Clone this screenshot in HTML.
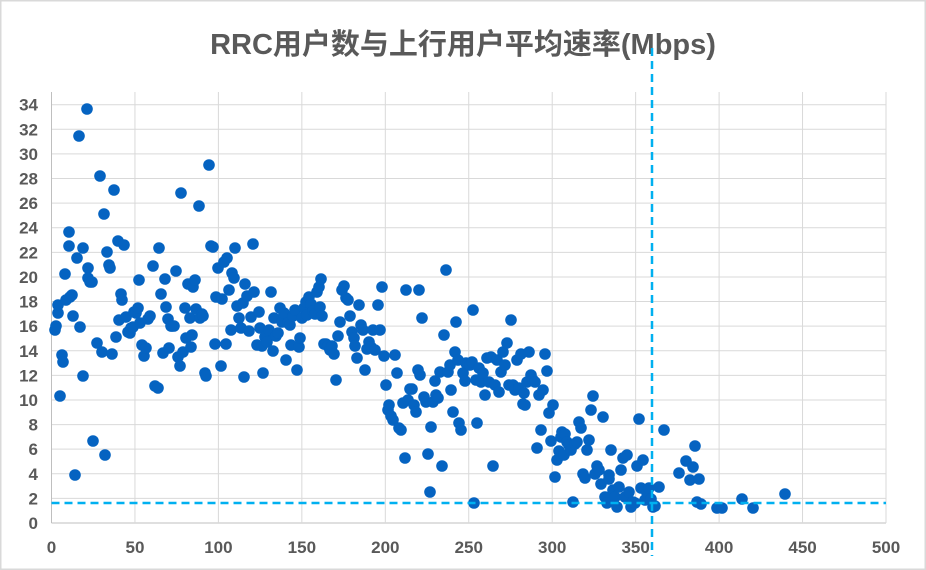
<!DOCTYPE html>
<html><head><meta charset="utf-8"><style>
html,body{margin:0;padding:0;background:#fff}
svg{display:block}
text{font-family:"Liberation Sans","Noto Sans CJK SC",sans-serif;fill:#595959}
</style></head><body>
<svg width="926" height="570" viewBox="0 0 926 570" xmlns="http://www.w3.org/2000/svg">
<rect x="0.5" y="0.5" width="925" height="569" fill="#fff" stroke="#d9d9d9" stroke-width="2"/>
<text x="463" y="54" text-anchor="middle" font-size="29" font-weight="bold">RRC用户数与上行用户平均速率(Mbps)</text>
<g id="grid" stroke="#d9d9d9" stroke-width="1"></g>
<g id="lab" font-size="17" font-weight="bold"></g>
<g id="pts" fill="#0563c1"></g>
<line x1="51.5" y1="503" x2="886" y2="503" stroke="#00b0f0" stroke-width="2.5" stroke-dasharray="8,5"/>
<line x1="652" y1="48" x2="652" y2="556" stroke="#00b0f0" stroke-width="2.5" stroke-dasharray="8,5"/>
</svg>
<script>
var ns="http://www.w3.org/2000/svg";
function el(p,t,a,txt){var e=document.createElementNS(ns,t);for(var k in a)e.setAttribute(k,a[k]);if(txt!=null)e.textContent=txt;document.getElementById(p).appendChild(e);}
var x0=51.5,xs=(886-51.5)/500,y0=523,ys=(523-104.7)/34;
for(var v=0;v<=34;v+=2){var y=y0-v*ys;el("grid","line",{x1:x0,x2:886,y1:y,y2:y,stroke:v==0?"#bfbfbf":"#d9d9d9"});el("lab","text",{x:38,y:y+6,"text-anchor":"end"},v);}
for(var v=0;v<=500;v+=50){var x=x0+v*xs;el("grid","line",{x1:x,x2:x,y1:92,y2:523,stroke:v==0?"#bfbfbf":"#d9d9d9"});el("lab","text",{x:x,y:553,"text-anchor":"middle"},v);}
var P=[[55,330],[56,326],[58,313],[58,305],[60,396],[62,355],[63,362],[65,274],[66,300],[69,232],[69,246],[70,297],[72,295],[73,316],[75,475],[77,258],[80,327],[83,376],[83,248],[88,268],[87,109],[79,136],[88,278],[90,282],[92,282],[93,441],[97,343],[100,176],[102,352],[104,214],[105,455],[107,252],[109,265],[110,268],[112,354],[114,190],[116,337],[118,241],[119,320],[121,294],[122,300],[124,245],[126,317],[128,332],[130,333],[131,328],[133,327],[134,312],[136,313],[138,308],[139,280],[140,323],[142,345],[144,356],[146,348],[148,319],[150,316],[153,266],[155,386],[158,388],[159,248],[161,294],[163,353],[165,279],[166,307],[168,319],[169,348],[171,326],[172,326],[174,326],[176,271],[178,357],[180,366],[181,193],[183,352],[185,308],[186,338],[188,284],[190,318],[191,347],[192,335],[193,287],[195,280],[196,309],[199,206],[200,318],[202,314],[203,316],[205,373],[206,376],[209,165],[211,246],[213,247],[215,344],[216,297],[218,268],[221,366],[222,299],[224,262],[226,344],[227,258],[229,290],[231,330],[232,273],[234,278],[235,248],[237,306],[239,318],[241,328],[243,303],[244,377],[245,284],[247,296],[249,331],[251,317],[253,244],[254,292],[257,345],[259,312],[260,328],[262,346],[263,373],[265,337],[267,342],[269,330],[271,292],[273,351],[274,318],[276,336],[278,333],[280,308],[282,322],[284,313],[286,360],[288,323],[290,325],[291,345],[293,316],[295,310],[297,370],[299,347],[300,338],[302,318],[304,308],[306,302],[307,315],[309,297],[311,304],[313,311],[315,314],[317,292],[319,287],[320,307],[321,279],[322,316],[324,344],[326,344],[328,346],[330,350],[332,346],[334,354],[336,380],[338,336],[340,322],[342,290],[344,286],[346,298],[348,300],[350,316],[352,332],[354,338],[355,346],[357,358],[359,305],[361,325],[363,330],[365,370],[367,349],[369,342],[371,347],[373,330],[375,350],[378,305],[380,330],[382,287],[384,356],[386,385],[388,410],[389,405],[391,416],[393,420],[395,355],[397,373],[399,428],[401,430],[403,403],[405,458],[406,290],[408,400],[410,389],[412,389],[414,405],[416,412],[418,370],[419,290],[420,375],[422,318],[424,397],[426,402],[428,454],[430,492],[431,427],[433,402],[435,381],[436,395],[438,398],[440,372],[442,466],[444,335],[446,270],[448,372],[450,365],[451,390],[453,412],[455,352],[456,322],[458,360],[459,423],[461,430],[463,373],[465,381],[466,363],[468,364],[470,365],[472,362],[473,310],[474,503],[476,380],[477,423],[479,368],[481,382],[483,373],[485,395],[487,358],[489,382],[491,357],[493,466],[495,385],[497,360],[499,392],[501,372],[503,352],[505,365],[507,343],[509,385],[511,320],[513,385],[515,390],[517,360],[519,388],[521,354],[523,404],[524,393],[525,405],[527,382],[529,352],[531,375],[533,380],[535,382],[537,448],[539,395],[541,430],[543,390],[545,354],[547,371],[549,413],[551,441],[553,405],[555,477],[557,460],[559,451],[561,437],[562,432],[564,455],[565,434],[567,442],[569,445],[571,450],[573,502],[575,444],[577,442],[579,422],[581,428],[583,474],[585,478],[587,450],[589,440],[591,410],[593,396],[595,474],[597,466],[599,470],[601,484],[603,417],[605,497],[607,503],[609,475],[611,450],[613,490],[615,497],[617,507],[619,487],[621,470],[623,458],[625,497],[627,455],[629,492],[631,507],[633,502],[635,503],[637,466],[639,419],[641,488],[643,460],[645,500],[647,493],[649,488],[651,499],[653,507],[655,506],[659,487],[664,430],[679,473],[686,461],[690,480],[693,467],[695,446],[697,502],[699,479],[701,504],[717,508],[722,508],[742,499],[753,508],[785,494],[609,479]];
P.forEach(function(p){el("pts","circle",{cx:p[0],cy:p[1],r:5.8});});
</script>
</body></html>
